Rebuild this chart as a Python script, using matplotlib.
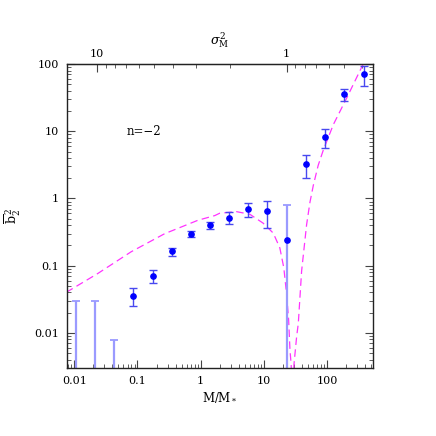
import matplotlib
matplotlib.use('Agg')
import matplotlib.pyplot as plt
from matplotlib.ticker import FixedLocator, FuncFormatter, LogLocator, NullFormatter

plt.rcParams['font.family'] = ['DejaVu Serif']
plt.rcParams['mathtext.fontset'] = 'dejavuserif'

# measured points (M/M*, b2^2 and the ends of the error bars)
mass = [0.0864, 0.175, 0.35, 0.70, 1.41, 2.85, 5.7, 11.4, 46.4, 93, 188, 378]
b2sq = [0.035, 0.071, 0.164, 0.30, 0.40, 0.52, 0.69, 0.65, 3.24, 8.2, 35.8, 71.3]
b2_top = [0.046, 0.087, 0.186, 0.33, 0.45, 0.63, 0.85, 0.91, 4.44, 10.8, 42.5, 94.6]
b2_bot = [0.025, 0.055, 0.139, 0.27, 0.35, 0.42, 0.53, 0.36, 2.01, 5.7, 28.3, 47.5]

# poorly constrained point (light bar)
mass_wide = [23.2]
b2sq_wide = [0.244]
b2_top_wide = [0.79]
b2_bot_wide = [1e-5]

# upper limits only
mass_lim = [0.0106, 0.0213, 0.043]
b2_lim = [0.030, 0.030, 0.0078]

# theory curve
curve_m = [0.00746, 0.0234, 0.0794, 0.269, 0.906, 1.67, 2.0, 3.68, 6.0, 9.75,
           14.1, 17.9, 20.7, 22.9, 24.7, 25.9, 27.1, 28.3, 29.9, 33.0, 35.1,
           39.6, 47.5, 53.7, 60.7, 72.4, 87.3, 126, 206, 356, 398]
curve_b = [0.0401, 0.0762, 0.161, 0.299, 0.474, 0.556, 0.603, 0.637, 0.582, 0.429,
           0.305, 0.184, 0.093, 0.038, 0.0155, 0.0056, 0.0033, 0.0005, 0.0033, 0.0087, 0.0138,
           0.083, 0.407, 0.88, 1.57, 3.1, 5.25, 12.6, 31.6, 91.2, 112]

dc2 = 1.686 ** 2

fig = plt.figure(figsize=(4.36, 4.36), dpi=100)
ax = fig.add_axes([0.154, 0.156, 0.701, 0.697])
ax.set_xscale('log')
ax.set_yscale('log')
ax.set_xlim(0.0077, 530)
ax.set_ylim(0.003, 100)

ax.plot(curve_m, curve_b, color='#ff33ff', lw=0.9, dashes=(6, 3.5))

yerr = [[v - b for v, b in zip(b2sq, b2_bot)], [t - v for v, t in zip(b2sq, b2_top)]]
ax.errorbar(mass, b2sq, yerr=yerr, fmt='o', color='#0000ff', ms=3.8,
            ecolor='#4848f0', elinewidth=1.0, capsize=2.8, capthick=1.0)
yerr_w = [[v - b for v, b in zip(b2sq_wide, b2_bot_wide)],
          [t - v for v, t in zip(b2sq_wide, b2_top_wide)]]
ax.errorbar(mass_wide, b2sq_wide, yerr=yerr_w, fmt='o', color='#0000ff', ms=3.8,
            ecolor='#9a9aff', elinewidth=1.6, capsize=2.8, capthick=1.3)
ax.errorbar(mass_lim, b2_lim, yerr=[[v - 1e-6 for v in b2_lim], [0] * 3], fmt='none',
            ecolor='#9a9aff', elinewidth=1.6, capsize=2.8, capthick=1.3)

ax.text(0.067, 10, 'n=\u22122', fontsize=8.5, ha='left', va='center')

fmt = FuncFormatter(lambda v, p: '%g' % v)
ax.xaxis.set_major_formatter(fmt)
ax.yaxis.set_major_formatter(fmt)
ax.xaxis.set_minor_formatter(NullFormatter())
ax.yaxis.set_minor_formatter(NullFormatter())
ax.yaxis.set_minor_locator(LogLocator(subs=range(2, 10), numticks=20))
ax.xaxis.set_minor_locator(LogLocator(subs=range(2, 10), numticks=20))
ax.tick_params(which='both', direction='in', top=False, right=True,
               labelsize=8, color='#444444')
ax.tick_params(which='major', length=6, width=0.8, pad=6)
ax.tick_params(which='minor', length=3, width=0.6)
for s in ax.spines.values():
    s.set_color('#222222')
    s.set_linewidth(1.0)

top = ax.secondary_xaxis('top', functions=(lambda m: dc2 * m ** (-1 / 3),
                                            lambda s: (dc2 / s) ** 3))
top.xaxis.set_major_locator(FixedLocator([1, 10]))
top.xaxis.set_minor_locator(FixedLocator([0.4, 0.5, 0.6, 0.7, 0.8, 0.9,
                                          2, 3, 4, 5, 6, 7, 8, 9]))
top.xaxis.set_major_formatter(fmt)
top.xaxis.set_minor_formatter(NullFormatter())
top.tick_params(which='both', direction='in', labelsize=8, color='#444444')
top.tick_params(which='major', length=6, width=0.8, pad=4)
top.tick_params(which='minor', length=3, width=0.6)
top.spines['top'].set_color('#222222')
top.set_xlabel(r'$\sigma^2_{\rm M}$', fontsize=9, labelpad=3)

ax.set_xlabel(r'M/M$_*$', fontsize=8.5, labelpad=3)
ax.set_ylabel(r'$\overline{\rm b}^{\,2}_{2}$', fontsize=9, labelpad=8)

fig.savefig('out.png', dpi=100)
